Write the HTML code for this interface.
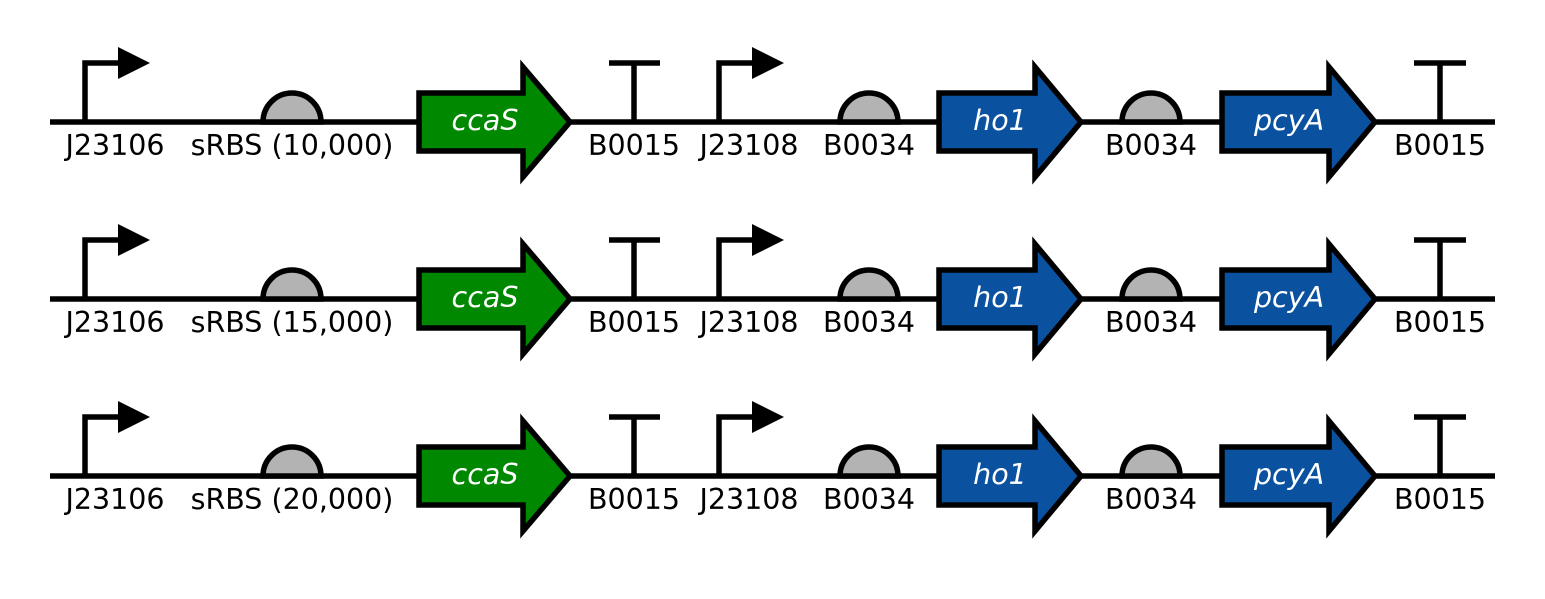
<!DOCTYPE html>
<html><head><meta charset="utf-8"><style>html,body{margin:0;padding:0;background:#fff}svg{display:block}</style></head><body>
<svg width="1545" height="599" viewBox="0 0 1545 599" xmlns="http://www.w3.org/2000/svg" font-family="DejaVu Sans, Liberation Sans, sans-serif">
<defs>
<g id="shapes" stroke="#000" stroke-width="5.5" stroke-linejoin="miter">
<line x1="50" y1="122" x2="1495" y2="122"/>
<polyline points="85,122 85,63 120,63" fill="none"/>
<polygon points="118,47 150,63 118,79" fill="#000" stroke="none"/>
<path d="M263,122 A29,29 0 0 1 321,122 Z" fill="#b3b3b3"/>
<polygon points="419,93 523,93 523,67 570,122 523,177 523,151 419,151" fill="#008800"/>
<polyline points="634,122 634,63" fill="none"/><line x1="609" y1="63" x2="660" y2="63"/>
<polyline points="719,122 719,63 754,63" fill="none"/>
<polygon points="752,47 784,63 752,79" fill="#000" stroke="none"/>
<path d="M840,122 A29,29 0 0 1 898,122 Z" fill="#b3b3b3"/>
<polygon points="939,93 1035,93 1035,67 1081,122 1035,177 1035,151 939,151" fill="#0a52a0"/>
<path d="M1122,122 A29,29 0 0 1 1180,122 Z" fill="#b3b3b3"/>
<polygon points="1222,93 1329,93 1329,67 1375,122 1329,177 1329,151 1222,151" fill="#0a52a0"/>
<polyline points="1440,122 1440,63" fill="none"/><line x1="1414" y1="63" x2="1466" y2="63"/>
</g>
</defs>
<g>
<use href="#shapes"/>
<g font-size="28.5" text-anchor="middle" fill="#000">
<text x="115" y="155">J23106</text><text x="292" y="155">sRBS (10,000)</text>
<text x="634" y="155">B0015</text><text x="749" y="155">J23108</text><text x="869" y="155">B0034</text>
<text x="1151" y="155">B0034</text><text x="1440" y="155">B0015</text>
</g>
<g font-size="28.5" font-style="italic" text-anchor="middle" fill="#fff">
<text x="485" y="130">ccaS</text><text x="1000" y="130">ho1</text><text x="1289" y="130">pcyA</text>
</g>
</g>
<g transform="translate(0,177)">
<use href="#shapes"/>
<g font-size="28.5" text-anchor="middle" fill="#000">
<text x="115" y="155">J23106</text><text x="292" y="155">sRBS (15,000)</text>
<text x="634" y="155">B0015</text><text x="749" y="155">J23108</text><text x="869" y="155">B0034</text>
<text x="1151" y="155">B0034</text><text x="1440" y="155">B0015</text>
</g>
<g font-size="28.5" font-style="italic" text-anchor="middle" fill="#fff">
<text x="485" y="130">ccaS</text><text x="1000" y="130">ho1</text><text x="1289" y="130">pcyA</text>
</g>
</g>
<g transform="translate(0,354)">
<use href="#shapes"/>
<g font-size="28.5" text-anchor="middle" fill="#000">
<text x="115" y="155">J23106</text><text x="292" y="155">sRBS (20,000)</text>
<text x="634" y="155">B0015</text><text x="749" y="155">J23108</text><text x="869" y="155">B0034</text>
<text x="1151" y="155">B0034</text><text x="1440" y="155">B0015</text>
</g>
<g font-size="28.5" font-style="italic" text-anchor="middle" fill="#fff">
<text x="485" y="130">ccaS</text><text x="1000" y="130">ho1</text><text x="1289" y="130">pcyA</text>
</g>
</g>
</svg>
</body></html>
